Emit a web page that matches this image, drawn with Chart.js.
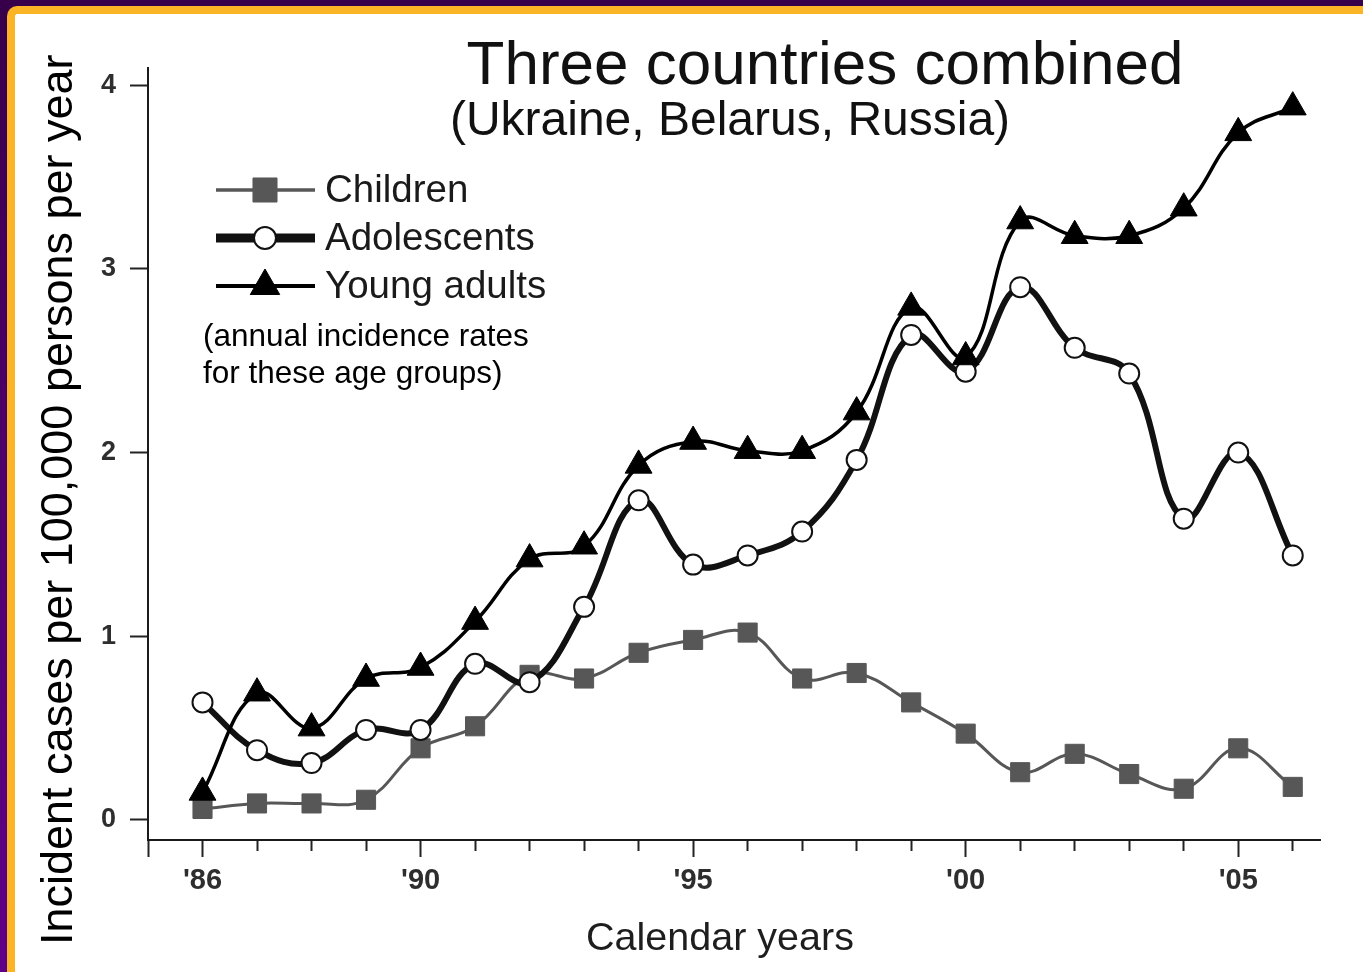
<!DOCTYPE html>
<html>
<head>
<meta charset="utf-8">
<title>Three countries combined</title>
<script src="https://cdn.jsdelivr.net/npm/chart.js@4.4.1/dist/chart.umd.min.js"></script>
<style>
  html, body { margin: 0; padding: 0; }
  body {
    width: 1363px; height: 972px; overflow: hidden; position: relative;
    background: linear-gradient(180deg, #37004a 0%, #4c0068 45%, #5f0088 100%);
  }
  #frame {
    position: absolute; left: 7px; top: 6px; width: 1420px; height: 1020px;
    background: #fff;
    border-left: 8px solid #fbb426; border-top: 8px solid #fbb426;
    border-top-left-radius: 10px;
  }
  #chart { position: absolute; left: 0; top: 0; }
</style>
</head>
<body>
<div id="frame"></div>
<canvas id="chart" width="1363" height="972"></canvas>
<script>
// Calendar years on the x axis
const years = [1986, 1987, 1988, 1989, 1990, 1991, 1992, 1993, 1994, 1995, 1996,
               1997, 1998, 1999, 2000, 2001, 2002, 2003, 2004, 2005, 2006];

// Annual incidence, cases per 100,000 persons per year
const children    = [0.06, 0.09, 0.09, 0.11, 0.39, 0.51, 0.79, 0.77, 0.91, 0.98, 1.02,
                     0.77, 0.80, 0.64, 0.47, 0.26, 0.36, 0.25, 0.17, 0.39, 0.18];
const adolescents = [0.64, 0.38, 0.31, 0.49, 0.49, 0.85, 0.75, 1.16, 1.74, 1.39, 1.44,
                     1.57, 1.96, 2.64, 2.44, 2.90, 2.57, 2.43, 1.64, 2.00, 1.44];
const youngAdults = [0.15, 0.69, 0.50, 0.77, 0.83, 1.08, 1.42, 1.49, 1.93, 2.06, 2.01,
                     2.01, 2.22, 2.79, 2.52, 3.26, 3.18, 3.18, 3.33, 3.74, 3.88];

const seriesNames = ['Children', 'Adolescents', 'Young adults'];

// Axis ticks
const labelledYears = [1986, 1990, 1995, 2000, 2005];
const yearLabels = ["'86", "'90", "'95", "'00", "'05"];
const valueTicks = [0, 1, 2, 3, 4];

// Texts
const titleText = 'Three countries combined';
const subtitleText = '(Ukraine, Belarus, Russia)';
const noteLines = ['(annual incidence rates', 'for these age groups)'];
const yAxisTitle = 'Incident cases per 100,000 persons per year';
const xAxisTitle = 'Calendar years';

const FONT = '"Liberation Sans", Arial, Helvetica, sans-serif';
const axisStart = 1985;

function points(values) {
  return years.map((yr, i) => ({ x: yr, y: values[i] }));
}

// Title, subtitle, axis titles, key and note, drawn over the plot
const figureText = {
  id: 'figureText',
  afterDraw(chart) {
    const ctx = chart.ctx;
    const H = Chart.helpers;
    ctx.save();
    ctx.fillStyle = '#111';
    ctx.textAlign = 'center';
    ctx.textBaseline = 'alphabetic';

    ctx.font = '62px ' + FONT;
    ctx.fillText(titleText, 825, 84);
    ctx.font = '48px ' + FONT;
    ctx.fillText(subtitleText, 730, 135);

    ctx.font = '39.5px ' + FONT;
    ctx.fillStyle = '#1e1e1e';
    ctx.fillText(xAxisTitle, 720, 950);

    ctx.save();
    ctx.translate(72, 945);
    ctx.rotate(-Math.PI / 2);
    ctx.textAlign = 'left';
    ctx.fillStyle = '#000';
    ctx.font = '45px ' + FONT;
    ctx.fillText(yAxisTitle, 0, 0);
    ctx.restore();

    // key
    const keyRows = [
      { y: 190, lineW: 3.5, color: '#575757', style: 'rect',     r: 17, fill: '#575757', bw: 1 },
      { y: 238, lineW: 9,   color: '#111',    style: 'circle',   r: 11, fill: '#fff',    bw: 2 },
      { y: 286, lineW: 4,   color: '#000',    style: 'triangle', r: 17, fill: '#000',    bw: 1 }
    ];
    keyRows.forEach((row, i) => {
      ctx.strokeStyle = row.color;
      ctx.lineWidth = row.lineW;
      ctx.beginPath();
      ctx.moveTo(216, row.y);
      ctx.lineTo(315, row.y);
      ctx.stroke();
      ctx.fillStyle = row.fill;
      ctx.strokeStyle = row.color;
      ctx.lineWidth = row.bw;
      H.drawPoint(ctx, { pointStyle: row.style, radius: row.r, rotation: 0, borderWidth: row.bw }, 265, row.y);
      ctx.fillStyle = '#1a1a1a';
      ctx.font = '38.5px ' + FONT;
      ctx.textAlign = 'left';
      ctx.textBaseline = 'middle';
      ctx.fillText(chart.data.datasets[i].label, 325, row.y + 1);
    });

    ctx.textBaseline = 'alphabetic';
    ctx.fillStyle = '#000';
    ctx.font = '31.5px ' + FONT;
    ctx.fillText(noteLines[0], 203, 346);
    ctx.fillText(noteLines[1], 203, 383);
    ctx.restore();
  }
};

new Chart(document.getElementById('chart'), {
  type: 'line',
  data: {
    datasets: [
      {
        label: seriesNames[0],
        data: points(children),
        borderColor: '#575757',
        backgroundColor: '#575757',
        borderWidth: 3,
        pointStyle: 'rect',
        pointRadius: 13.5,
        pointBackgroundColor: '#575757',
        pointBorderColor: '#575757',
        pointBorderWidth: 1,
        tension: 0.4,
        order: 3
      },
      {
        label: seriesNames[1],
        data: points(adolescents),
        borderColor: '#111',
        borderWidth: 6,
        pointStyle: 'circle',
        pointRadius: 10,
        pointBackgroundColor: '#fff',
        pointBorderColor: '#111',
        pointBorderWidth: 2,
        tension: 0.4,
        order: 2
      },
      {
        label: seriesNames[2],
        data: points(youngAdults),
        borderColor: '#000',
        borderWidth: 3.5,
        pointStyle: 'triangle',
        pointRadius: 15.5,
        pointBackgroundColor: '#000',
        pointBorderColor: '#000',
        pointBorderWidth: 1,
        tension: 0.4,
        order: 1
      }
    ]
  },
  options: {
    responsive: false,
    animation: false,
    devicePixelRatio: 1,
    layout: { padding: { left: 0, top: 68, right: 43, bottom: 0 } },
    plugins: {
      legend: { display: false },
      title: { display: false },
      tooltip: { enabled: false }
    },
    scales: {
      x: {
        type: 'linear',
        min: axisStart,
        max: 2006.5,
        afterBuildTicks(axis) {
          axis.ticks = [axisStart].concat(years).map(v => ({ value: v }));
        },
        afterFit(axis) { axis.height = 132; },
        ticks: {
          autoSkip: false,
          maxRotation: 0,
          padding: 7,
          color: '#2e2e2e',
          font: { family: FONT, size: 29, weight: 'bold' },
          callback(v) {
            const i = labelledYears.indexOf(v);
            return i >= 0 ? yearLabels[i] : '';
          }
        },
        grid: {
          drawOnChartArea: false,
          tickLength: 17,
          tickWidth: 2,
          tickColor: '#222',
          tickBorderDash(ctx) {
            const v = ctx.tick ? ctx.tick.value : null;
            return (v === axisStart || labelledYears.includes(v)) ? [] : [10, 40];
          }
        },
        border: { color: '#1a1a1a', width: 2 }
      },
      y: {
        type: 'linear',
        min: -0.109,
        max: 4.093,
        afterBuildTicks(axis) {
          axis.ticks = valueTicks.map(v => ({ value: v }));
        },
        afterFit(axis) { axis.width = 148; },
        ticks: {
          padding: 14,
          color: '#2e2e2e',
          font: { family: FONT, size: 27, weight: 'bold' }
        },
        grid: {
          drawOnChartArea: false,
          tickLength: 18,
          tickWidth: 2,
          tickColor: '#222'
        },
        border: { color: '#1a1a1a', width: 2 }
      }
    }
  },
  plugins: [figureText]
});
</script>
</body>
</html>
